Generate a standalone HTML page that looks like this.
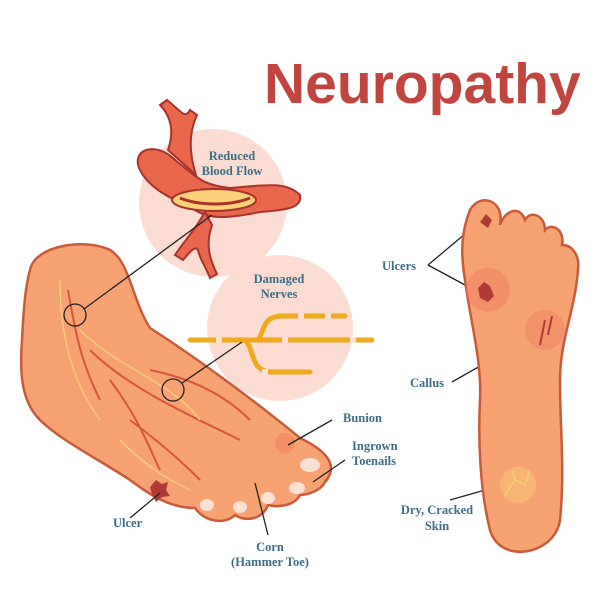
<!DOCTYPE html>
<html><head><style>html,body{margin:0;padding:0;background:#fff}svg{display:block}
.l{font-family:"Liberation Serif",serif;font-weight:bold;fill:#3d6e86;font-size:12.5px}</style></head>
<body>
<svg width="600" height="600" viewBox="0 0 600 600">
<rect width="600" height="600" fill="#fff"/>
<text x="264" y="103" font-family="Liberation Sans,sans-serif" font-weight="bold" font-size="57" fill="#c0453f">Neuropathy</text>
<circle cx="213" cy="203" r="74" fill="#fbdcd2"/>
<circle cx="280" cy="328" r="73" fill="#fbdcd2"/>
<!-- side foot -->
<path d="M30,270 C35,245 85,238 110,250 C130,262 132,300 150,328 C200,360 260,405 300,438 C325,450 340,465 325,482 C320,492 305,495 300,495 C295,505 280,508 268,505 C262,520 245,522 235,515 C225,525 205,522 195,508 C170,508 150,495 130,480 C100,460 60,440 40,420 C20,400 20,370 22,340 C24,300 26,285 30,270 Z" fill="#f6a272" stroke="#c95a3a" stroke-width="2.5"/>
<g fill="none" stroke="#d8553d" stroke-width="2">
<path d="M68,290 C75,330 80,360 100,400"/><path d="M90,350 C130,390 200,420 240,440"/><path d="M110,380 C140,420 150,450 160,470"/><path d="M150,370 C200,380 230,400 250,420"/><path d="M130,420 C170,450 190,470 200,480"/>
</g>
<g fill="none" stroke="#fbd27a" stroke-width="1.3"><path d="M60,280 C60,330 70,380 100,420"/><path d="M80,330 C120,370 170,380 200,420"/><path d="M120,440 C150,470 170,480 190,490"/></g>
<g fill="#fbe0d4"><ellipse cx="310" cy="465" rx="10" ry="7"/><ellipse cx="297" cy="488" rx="8" ry="6"/><ellipse cx="268" cy="498" rx="7" ry="6"/><ellipse cx="240" cy="507" rx="7" ry="6"/><ellipse cx="207" cy="505" rx="7" ry="6"/></g>
<polygon points="150,487 156,480 162,484 168,482 166,490 170,496 162,497 156,502 152,494" fill="#b03a37"/>
<circle cx="285" cy="443" r="10" fill="#f07a60" opacity=".5"/>
<!-- vessel -->
<g fill="#e9674d" stroke="#a8332c" stroke-width="2">
<path d="M140,170 C130,150 155,140 175,160 C195,175 200,185 230,188 C260,186 285,180 300,195 C303,210 280,210 260,212 C230,218 210,220 195,210 C175,200 150,190 140,170 Z"/>
<path d="M168,150 C175,130 170,115 160,105 L167,100 C180,110 185,120 190,110 L197,115 C190,130 188,150 196,175 Z"/>
<path d="M205,212 C195,230 185,240 175,255 L183,260 C190,252 195,245 198,250 C200,260 205,265 210,278 L217,274 C210,260 205,245 212,225 Z"/>
</g>
<ellipse cx="214" cy="200" rx="42" ry="11" fill="#fbd27a" stroke="#a8332c" stroke-width="2"/>
<path d="M180,198 C200,206 230,206 250,198" stroke="#a8332c" stroke-width="3" fill="none"/>
<text class="l" x="232" y="160" text-anchor="middle">Reduced</text>
<text class="l" x="232" y="175" text-anchor="middle">Blood Flow</text>
<!-- nerves -->
<g fill="none" stroke="#efa91c" stroke-width="5" stroke-linecap="round">
<path d="M190,340 L372,340"/><path d="M258,340 C265,330 262,318 280,316 L345,316"/><path d="M245,340 C255,350 250,370 270,372 L310,372"/>
</g>
<g fill="#fbe0d4"><rect x="216" y="337" width="6" height="6"/><rect x="282" y="337" width="6" height="6"/><rect x="350" y="337" width="6" height="6"/><rect x="298" y="313" width="6" height="6"/><rect x="325" y="313" width="6" height="6"/><rect x="262" y="369" width="6" height="6"/></g>
<text class="l" x="279" y="283" text-anchor="middle">Damaged</text>
<text class="l" x="279" y="298" text-anchor="middle">Nerves</text>
<!-- leaders -->
<g stroke="#222" stroke-width="1.3" fill="none">
<circle cx="75" cy="315" r="11"/><line x1="84" y1="309" x2="212" y2="215"/>
<circle cx="173" cy="390" r="11"/><line x1="182" y1="383" x2="242" y2="342"/>
<line x1="288" y1="445" x2="332" y2="420"/><line x1="313" y1="482" x2="345" y2="460"/>
<line x1="160" y1="493" x2="130" y2="518"/><line x1="255" y1="483" x2="268" y2="535"/>
<line x1="428" y1="265" x2="478" y2="223"/><line x1="428" y1="265" x2="478" y2="292"/>
<line x1="452" y1="382" x2="540" y2="332"/><line x1="450" y1="500" x2="513" y2="482"/>
</g>
<text class="l" x="343" y="422">Bunion</text>
<text class="l" x="352" y="450">Ingrown</text><text class="l" x="352" y="465">Toenails</text>
<text class="l" x="113" y="527">Ulcer</text>
<text class="l" x="270" y="551" text-anchor="middle">Corn</text><text class="l" x="270" y="566" text-anchor="middle">(Hammer Toe)</text>
<!-- sole -->
<path d="M470,210 C480,192 505,200 500,225 C505,210 520,205 525,220 C530,210 545,215 545,230 C552,222 565,230 562,245 C572,245 580,255 578,270 C575,310 560,340 560,380 C560,430 565,470 560,520 C555,555 500,565 490,530 C480,490 478,440 480,400 C482,360 470,320 465,280 C460,250 462,230 470,210 Z" fill="#f6a272" stroke="#c95a3a" stroke-width="2.5"/>
<circle cx="488" cy="290" r="22" fill="#f07a60" opacity=".45"/><circle cx="545" cy="330" r="20" fill="#f07a60" opacity=".4"/>
<polygon points="478,288 484,282 490,286 494,296 488,302 480,298" fill="#b03a37"/>
<polygon points="480,222 486,214 492,220 488,228" fill="#b03a37"/>
<path d="M545,320 L540,345 M552,316 L548,335" stroke="#b03a37" stroke-width="2"/>
<circle cx="518" cy="485" r="18" fill="#fbd27a" opacity=".4"/>
<path d="M505,495 L515,480 L525,485 L530,470 M515,480 L512,470" stroke="#f2d26e" stroke-width="1.3" fill="none"/>
<text class="l" x="382" y="270">Ulcers</text>
<text class="l" x="410" y="387">Callus</text>
<text class="l" x="437" y="514" text-anchor="middle">Dry, Cracked</text><text class="l" x="437" y="530" text-anchor="middle">Skin</text>
</svg>
</body></html>
